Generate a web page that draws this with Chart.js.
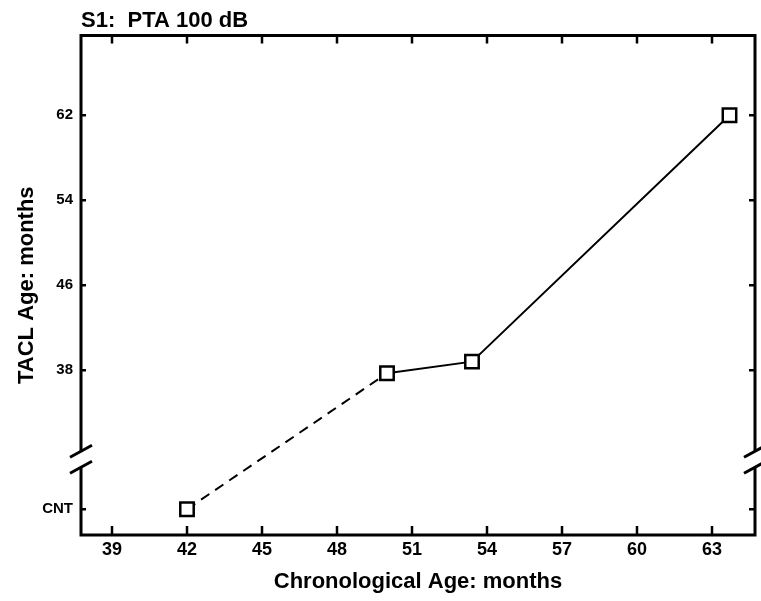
<!DOCTYPE html>
<html>
<head>
<meta charset="utf-8">
<script src="https://cdn.jsdelivr.net/npm/chart.js@4.4.1/dist/chart.umd.min.js"></script>
<style>
  html, body { margin: 0; padding: 0; background: #fff; }
  #wrap { width: 761px; height: 601px; position: relative; }
</style>
</head>
<body>
<div id="wrap"><canvas id="chart"></canvas></div>
<script>
// Data
const chronAge = [42, 50, 53.4, 63.7];          // Chronological Age: months
const taclAge = ["CNT", 37.7, 38.8, 62];        // TACL Age: months ("CNT" = could not test)
const xTicks = [39, 42, 45, 48, 51, 54, 57, 60, 63];
const yTicks = [38, 46, 54, 62];
const cntLabel = "CNT";

// where CNT sits on the (broken) y axis, and where the break is
const cntPos = 24.9;
const breakPos = 29.6;

const font = '"Liberation Sans", Arial, Helvetica, sans-serif';
Chart.defaults.font.family = font;
Chart.defaults.color = "#000";

const points = chronAge.map((x, i) => ({
  x: x,
  y: taclAge[i] === cntLabel ? cntPos : taclAge[i]
}));

// Frame with inward ticks and the axis break marks
const framePlugin = {
  id: "frame",
  afterDraw(chart) {
    const { ctx, chartArea: a, scales } = chart;
    const xs = scales.x, ys = scales.y;
    const yb = ys.getPixelForValue(breakPos);
    const gap = 8;
    ctx.save();
    ctx.strokeStyle = "#000";
    ctx.lineCap = "butt";
    ctx.lineWidth = 3;
    ctx.beginPath();
    // top + bottom
    ctx.moveTo(a.left - 1.5, a.top); ctx.lineTo(a.right + 1.5, a.top);
    ctx.moveTo(a.left - 1.5, a.bottom); ctx.lineTo(a.right + 1.5, a.bottom);
    // left and right with break
    [a.left, a.right].forEach(x => {
      ctx.moveTo(x, a.top); ctx.lineTo(x, yb - gap);
      ctx.moveTo(x, yb + gap); ctx.lineTo(x, a.bottom);
    });
    ctx.stroke();

    // break slashes
    ctx.beginPath();
    [a.left, a.right].forEach(x => {
      [-gap, gap].forEach(d => {
        ctx.moveTo(x - 11, yb + d + 6);
        ctx.lineTo(x + 11, yb + d - 6);
      });
    });
    ctx.stroke();

    // inward ticks
    ctx.lineWidth = 2.5;
    ctx.beginPath();
    xTicks.forEach(v => {
      const px = xs.getPixelForValue(v);
      ctx.moveTo(px, a.bottom); ctx.lineTo(px, a.bottom - 9);
      ctx.moveTo(px, a.top); ctx.lineTo(px, a.top + 8);
    });
    yTicks.concat([cntPos]).forEach(v => {
      const py = ys.getPixelForValue(v);
      ctx.moveTo(a.left, py); ctx.lineTo(a.left + 5, py);
      ctx.moveTo(a.right, py); ctx.lineTo(a.right - 6, py);
    });
    ctx.stroke();
    ctx.restore();
  }
};

new Chart(document.getElementById("chart"), {
  type: "line",
  data: {
    datasets: [{
      data: points,
      borderColor: "#000",
      borderWidth: 2,
      tension: 0,
      fill: false,
      pointStyle: "rect",
      pointRadius: 9.5,
      pointHoverRadius: 9.5,
      pointBorderWidth: 2.5,
      pointBackgroundColor: "#fff",
      pointBorderColor: "#000",
      segment: {
        borderDash: (c) => (taclAge[c.p0DataIndex] === cntLabel ? [10, 7] : undefined)
      }
    }]
  },
  options: {
    responsive: true,
    maintainAspectRatio: false,
    animation: false,
    layout: { autoPadding: false, padding: { top: 0, right: 6, bottom: 0, left: 0 } },
    plugins: {
      legend: { display: false },
      tooltip: { enabled: false },
      title: {
        display: true,
        text: "S1:  PTA 100 dB",
        align: "start",
        fullSize: false,
        color: "#000",
        font: { size: 22, weight: "bold" },
        padding: { top: 8, bottom: 1 }
      }
    },
    scales: {
      x: {
        type: "linear",
        min: 37.76,
        max: 64.72,
        afterBuildTicks: (s) => { s.ticks = xTicks.map(v => ({ value: v })); },
        afterFit: (s) => {
          s.height = 66;
          s.paddingLeft = 0;
          s.paddingRight = 0;
        },
        grid: { display: false, drawTicks: false },
        border: { display: false },
        ticks: {
          padding: 4,
          color: "#000",
          font: { size: 18, weight: "bold" },
          callback: (v) => v
        },
        title: {
          display: true,
          text: "Chronological Age: months",
          color: "#000",
          font: { size: 22, weight: "bold" },
          padding: { top: 0, bottom: 6 }
        }
      },
      y: {
        type: "linear",
        min: 22.47,
        max: 69.53,
        afterBuildTicks: (s) => {
          s.ticks = [cntPos].concat(yTicks).map(v => ({ value: v }));
        },
        afterFit: (s) => { s.width = 81; },
        grid: { display: false, drawTicks: false },
        border: { display: false },
        ticks: {
          padding: 8,
          color: "#000",
          font: { size: 15, weight: "bold" },
          callback: (v) => (v === cntPos ? cntLabel : v)
        },
        title: {
          display: true,
          text: "TACL Age: months",
          color: "#000",
          font: { size: 22, weight: "bold" },
          padding: { top: 14, bottom: 0 }
        }
      }
    }
  },
  plugins: [framePlugin]
});
</script>
</body>
</html>
